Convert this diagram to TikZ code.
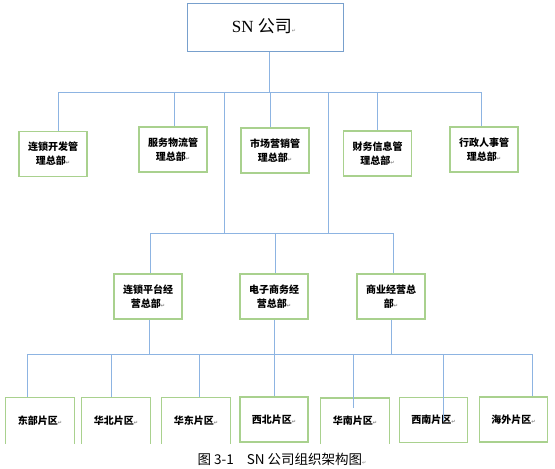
\documentclass[tikz,border=0pt]{standalone}
\usepackage{fontspec}
\setmainfont{Liberation Serif}
\newfontfamily\cjk{Noto Sans CJK SC}
\newfontfamily\dvs{DejaVu Sans}
\definecolor{lineblue}{RGB}{141,180,226}
\definecolor{boxgreen}{RGB}{169,209,142}
\definecolor{topblue}{RGB}{120,160,205}
\newcommand{\retmark}{{\dvs\fontsize{5}{5}\selectfont\color{gray}↵}}
\begin{document}
\begin{tikzpicture}[x=1pt,y=-1pt,
  link/.style={draw=lineblue, line width=1pt},
  dept/.style={draw=boxgreen, line width=1.2pt, minimum width=68pt, minimum height=45pt,
    inner sep=0pt, align=center, font=\cjk\bfseries\fontsize{10}{14}\selectfont},
  opendept/.style={dept, draw=none},
  topbox/.style={draw=topblue, line width=1pt, minimum width=156pt, minimum height=48pt, inner sep=0pt},
  caption/.style={inner sep=0pt, font=\cjk\fontsize{13.5}{14}\selectfont}
]
\useasboundingbox (0,0) rectangle (555,469);

% coordinates on bars
\coordinate (b1l) at (58,92);
\coordinate (b1r) at (481,92);
\coordinate (d1) at (224,92);
\coordinate (d2) at (328,92);
\coordinate (b2l) at (150,233);
\coordinate (b2r) at (393,233);
\coordinate (b3l) at (27,354);
\coordinate (b3r) at (533,354);
\coordinate (k1) at (27,354);
\coordinate (k2) at (111,354);
\coordinate (k3) at (199,354);
\coordinate (k5) at (353,354);
\coordinate (k6) at (443,354);
\coordinate (k7) at (532,354);
\coordinate (in5) at (353,408);
\coordinate (in6) at (443,421);

% nodes
\node[topbox] (top) at (265,27) {};
\node (title) at (264,26) {\fontsize{17}{17}\selectfont SN {\cjk 公司}\retmark};

\node[dept] (m1) at (53,154) {连锁开发管\\理总部\retmark};
\node[dept] (m2) at (173,149.5) {服务物流管\\理总部\retmark};
\node[dept] (m3) at (275,150.5) {市场营销管\\理总部\retmark};
\node[dept] (m4) at (377.5,153.5) {财务信息管\\理总部\retmark};
\node[dept] (m5) at (484,149.5) {行政人事管\\理总部\retmark};

\node[dept] (o1) at (148,296.5) {连锁平台经\\营总部\retmark};
\node[dept] (o2) at (274,296.5) {电子商务经\\营总部\retmark};
\node[dept] (o3) at (391,296.5) {商业经营总\\部\retmark};

\node[opendept] (r1) at (40,420.5) {东部片区\retmark};
\node[opendept] (r2) at (116,420.5) {华北片区\retmark};
\node[opendept] (r3) at (196,420.5) {华东片区\retmark};
\node[dept] (r4) at (274,419.5) {西北片区\retmark};
\node[opendept] (r5) at (355,421) {华南片区\retmark};
\node[dept] (r6) at (433.5,420) {西南片区\retmark};
\node[dept] (r7) at (513.5,419.5) {海外片区\retmark};

\foreach \r in {r1,r2,r3,r5}{
  \draw[boxgreen, line width=1.2pt] (\r.south west) -- (\r.north west) -- (\r.north east) -- (\r.south east);
}

\node[caption] (cap) at (282,459) {图 3-1\hspace{13pt}SN 公司组织架构图\retmark};

% connectors
\draw[link] (top.south -| 269,0) -- (269,92);
\draw[link] (b1l) -- (b1r);
\draw[link] (b1l) -- (b1l |- m1.north);
\draw[link] (174,92) -- (174,0 |- m2.north);
\draw[link] (270,92) -- (270,0 |- m3.north);
\draw[link] (377,92) -- (377,0 |- m4.north);
\draw[link] (b1r) -- (b1r |- m5.north);
\draw[link] (d1) -- (d1 |- b2l);
\draw[link] (d2) -- (d2 |- b2l);
\draw[link] (b2l) -- (b2r);
\draw[link] (b2l) -- (b2l |- o1.north);
\draw[link] (275,233) -- (275,0 |- o2.north);
\draw[link] (b2r) -- (b2r |- o3.north);
\draw[link] (o1.south -| 149,0) -- (149,354);
\draw[link] (o3.south) -- (o3.south |- b3l);
\draw[link] (o2.south) -- (r4.north);
\draw[link] (b3l) -- (b3r);
\draw[link] (k1) -- (k1 |- r1.north);
\draw[link] (k2) -- (k2 |- r2.north);
\draw[link] (k3) -- (k3 |- r3.north);
\draw[link] (k5) -- (in5);
\draw[link] (k6) -- (in6);
\draw[link] (k7) -- (k7 |- r7.north);
\end{tikzpicture}
\end{document}
